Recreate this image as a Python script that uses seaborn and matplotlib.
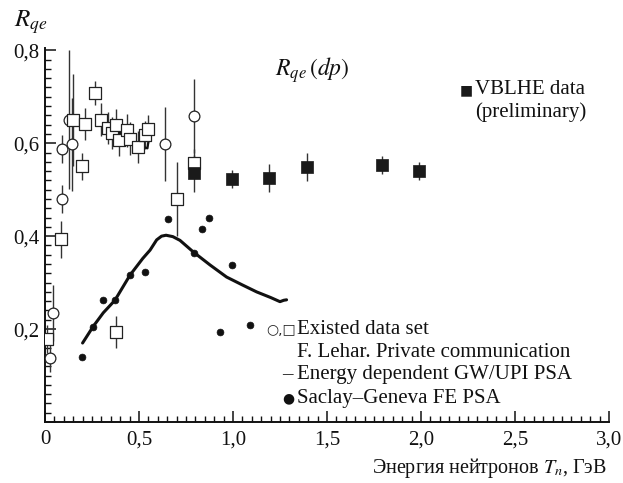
import matplotlib

matplotlib.use("Agg")

import matplotlib.pyplot as plt
import numpy as np
import pandas as pd
import seaborn as sns
from matplotlib.ticker import FuncFormatter, MultipleLocator

# Existed data set: open circles
circ_x = [0.025, 0.043, 0.089, 0.089, 0.13, 0.142, 0.64, 0.79]
circ_y = [0.137, 0.234, 0.48, 0.587, 0.651, 0.598, 0.598, 0.659]
circ_err = [0.03, 0.06, 0.03, 0.03, 0.15, 0.10, 0.08, 0.08]

# Existed data set: open squares
sq_x = [0.012, 0.085, 0.149, 0.195, 0.213, 0.266, 0.296, 0.335, 0.355, 0.376,
        0.378, 0.395, 0.434, 0.452, 0.496, 0.532, 0.55, 0.70, 0.79]
sq_y = [0.178, 0.393, 0.65, 0.55, 0.641, 0.708, 0.651, 0.633, 0.622, 0.639,
        0.194, 0.608, 0.628, 0.61, 0.592, 0.617, 0.63, 0.48, 0.558]
sq_err = [0.03, 0.04, 0.10, 0.03, 0.035, 0.025, 0.035, 0.035, 0.035, 0.035,
          0.035, 0.035, 0.035, 0.035, 0.035, 0.03, 0.03, 0.08, 0.03]

# VBLHE data (preliminary)
vb_x = [0.793, 0.993, 1.19, 1.392, 1.79, 1.99]
vb_y = [0.535, 0.523, 0.525, 0.549, 0.553, 0.54]
vb_err = [0.04, 0.02, 0.03, 0.03, 0.02, 0.02]

# Saclay-Geneva FE PSA
sg_x = [0.195, 0.254, 0.31, 0.374, 0.452, 0.534, 0.652, 0.793, 0.833, 0.874, 0.931, 0.993, 1.09]
sg_y = [0.139, 0.205, 0.262, 0.262, 0.316, 0.323, 0.436, 0.364, 0.416, 0.44, 0.194, 0.339, 0.209]

# Energy dependent GW/UPI PSA curves
gw_hi_x = [0.32, 0.38, 0.45, 0.50, 0.545, 0.553]
gw_hi_y = [0.64, 0.627, 0.611, 0.596, 0.589, 0.612]
gw_lo_x = [0.2, 0.257, 0.31, 0.372, 0.452, 0.52, 0.559, 0.594, 0.62, 0.644, 0.68,
           0.718, 0.789, 0.878, 0.966, 1.05, 1.126, 1.2, 1.25, 1.27, 1.285]
gw_lo_y = [0.17, 0.206, 0.235, 0.262, 0.316, 0.352, 0.37, 0.392, 0.4, 0.402, 0.399,
           0.391, 0.366, 0.338, 0.312, 0.295, 0.28, 0.268, 0.259, 0.262, 0.263]

SERIF = ["Liberation Serif", "DejaVu Serif"]
SYM = ["DejaVu Sans"]


def setup_style() -> None:
    sns.set_theme(style="ticks")
    plt.rcParams["font.family"] = SERIF
    plt.rcParams["mathtext.fontset"] = "stix"


def comma(v, _pos):
    if abs(v) < 1e-9:
        return "0"
    return f"{v:.1f}".replace(".", ",")


def main() -> int:
    setup_style()
    fig = plt.figure(figsize=(6.23, 4.83), dpi=100)
    ax = fig.add_axes([0.0722, 0.1263, 0.9053, 0.7743])

    ebar = dict(fmt="none", ecolor="#333333", elinewidth=1.0, capsize=0, zorder=1)
    ax.errorbar(circ_x, circ_y, yerr=circ_err, **ebar)
    ax.errorbar(sq_x, sq_y, yerr=sq_err, **ebar)
    ax.errorbar(vb_x, vb_y, yerr=vb_err, **ebar)

    sns.lineplot(x=gw_hi_x, y=gw_hi_y, sort=False, ax=ax, color="#111111", lw=1.6, zorder=2)
    sns.lineplot(x=gw_lo_x, y=gw_lo_y, sort=False, ax=ax, color="#111111", lw=2.2, zorder=2)

    sns.scatterplot(x=circ_x, y=circ_y, ax=ax, marker="o", s=60, facecolor="white",
                    edgecolor="#222222", linewidth=0.9, zorder=3)
    sns.scatterplot(x=sq_x, y=sq_y, ax=ax, marker="s", s=65, facecolor="white",
                    edgecolor="#222222", linewidth=0.9, zorder=3)
    sns.scatterplot(x=vb_x, y=vb_y, ax=ax, marker="s", s=80, color="#1a1a1a",
                    edgecolor="#1a1a1a", linewidth=0.5, zorder=3)
    sns.scatterplot(x=sg_x, y=sg_y, ax=ax, marker="o", s=24, color="#111111",
                    edgecolor="#111111", linewidth=0.5, zorder=3)

    ax.set_xlim(0, 3.0)
    ax.set_ylim(0, 0.805)
    sns.despine(ax=ax)
    for side in ("left", "bottom"):
        ax.spines[side].set_linewidth(1.4)
        ax.spines[side].set_color("#111111")

    ax.xaxis.set_major_locator(MultipleLocator(0.5))
    ax.xaxis.set_minor_locator(MultipleLocator(0.05))
    ax.yaxis.set_major_locator(MultipleLocator(0.2))
    ax.yaxis.set_minor_locator(MultipleLocator(0.02))
    ax.xaxis.set_major_formatter(FuncFormatter(comma))
    ax.yaxis.set_major_formatter(FuncFormatter(lambda v, p: "" if abs(v) < 1e-9 else comma(v, p)))
    ax.tick_params(which="major", direction="in", length=8, width=1.1, labelsize=15,
                   colors="#111111", pad=6)
    ax.tick_params(which="minor", direction="in", length=4.5, width=1.0, colors="#111111")
    ax.tick_params(axis="y", which="major", pad=4)

    ax.set_xlabel("")
    ax.set_ylabel("")
    fig.text(0.974, 0.031, "Энергия нейтронов $T_n$, ГэВ", ha="right", va="center",
             fontsize=14.5, color="#111111")
    fig.text(0.022, 0.954, "$R_{qe}$", ha="left", va="center", fontsize=18, color="#111111")
    ax.text(0.408, 0.94, r"$R_{qe}\,(dp)$", transform=ax.transAxes, ha="left",
            va="center", fontsize=17, color="#111111")

    # VBLHE key
    ax.text(0.758, 0.888, "■", transform=ax.transAxes, ha="right", va="center",
            fontsize=10, family=SYM, color="#1a1a1a")
    ax.text(0.762, 0.888, "VBLHE data", transform=ax.transAxes, ha="left", va="center",
            fontsize=15, color="#111111")
    ax.text(0.762, 0.828, "(preliminary)", transform=ax.transAxes, ha="left", va="center",
            fontsize=15, color="#111111")

    # lower key block
    kx = 0.447
    ax.text(kx - 0.003, 0.246, "○,□", transform=ax.transAxes, ha="right", va="center",
            fontsize=10, family=SYM, color="#222222")
    ax.text(kx, 0.246, "Existed data set", transform=ax.transAxes, ha="left", va="center",
            fontsize=15, color="#111111")
    ax.text(kx, 0.187, "F. Lehar. Private communication", transform=ax.transAxes,
            ha="left", va="center", fontsize=15, color="#111111")
    ax.text(kx - 0.008, 0.126, "–", transform=ax.transAxes, ha="right", va="center",
            fontsize=15, color="#111111")
    ax.text(kx, 0.126, "Energy dependent GW/UPI PSA", transform=ax.transAxes,
            ha="left", va="center", fontsize=15, color="#111111")
    ax.text(kx - 0.004, 0.064, "●", transform=ax.transAxes, ha="right", va="center",
            fontsize=10, family=SYM, color="#111111")
    ax.text(kx, 0.064, "Saclay–Geneva FE PSA", transform=ax.transAxes, ha="left",
            va="center", fontsize=15, color="#111111")

    fig.savefig("out.png", dpi=100, facecolor="white")
    plt.close(fig)
    return 0


if __name__ == "__main__":
    raise SystemExit(main())
